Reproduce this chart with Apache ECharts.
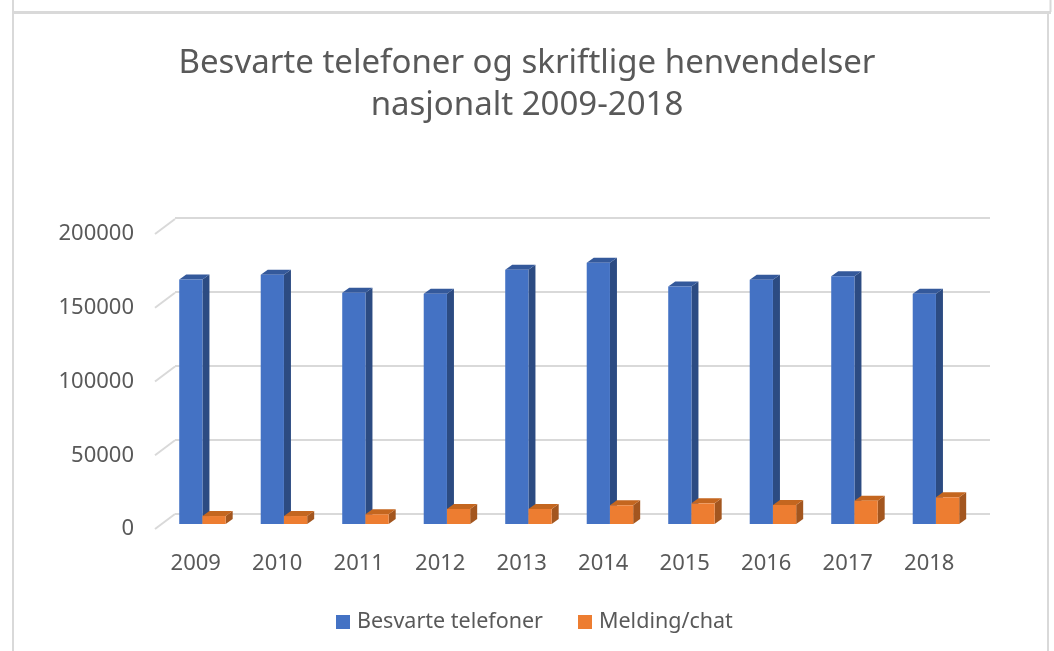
<!DOCTYPE html>
<html>
<head>
<meta charset="utf-8">
<script src="https://cdn.jsdelivr.net/npm/echarts@6/dist/echarts.min.js"></script>
<style>
  html, body { margin: 0; padding: 0; background: #fff; }
  #chart { width: 1054px; height: 651px; }
</style>
</head>
<body>
<div id="chart"></div>
<script>
// data
const years = ['2009', '2010', '2011', '2012', '2013', '2014', '2015', '2016', '2017', '2018'];
const telefoner = [165800, 168900, 156700, 156100, 172400, 177100, 161100, 165600, 167900, 156100];
const chat = [5400, 5400, 6600, 10200, 10200, 12700, 14000, 12900, 15800, 18100];
const yTicks = [0, 50000, 100000, 150000, 200000];

const TXT = '#595959';
const GRID_LINE = '#d9d9d9';
const FONT = 'Noto Sans';

// bar front face sits a bit behind the front plane, side/top depth
const DX = 6.7, DY = -5;
const SX = 7, SY = -5;

function bar3d(slot, front, side, top) {
  return function (params, api) {
    const i = api.value(0);
    const v = api.value(1);
    const base = api.coord([i, 0]);
    const tip = api.coord([i, v]);
    const bw = api.size([1, 0])[0] * 0.285;
    const x0 = base[0] + DX + (slot - 1) * bw;
    const x1 = x0 + bw;
    const y0 = base[1] + DY;
    const y1 = tip[1] + DY;
    return {
      type: 'group',
      children: [
        { type: 'polygon', shape: { points: [[x1, y0], [x1 + SX, y0 + SY], [x1 + SX, y1 + SY], [x1, y1]] }, style: { fill: side } },
        { type: 'polygon', shape: { points: [[x0, y1], [x0 + SX, y1 + SY], [x1 + SX, y1 + SY], [x1, y1]] }, style: { fill: top } },
        { type: 'rect', shape: { x: x0, y: y1, width: bw, height: y0 - y1 }, style: { fill: front } }
      ]
    };
  };
}

const chart = echarts.init(document.getElementById('chart'));

const option = {
  backgroundColor: '#fff',
  animation: false,
  title: {
    text: 'Besvarte telefoner og skriftlige henvendelser\nnasjonalt 2009-2018',
    left: 'center',
    top: 38,
    textStyle: { fontFamily: FONT, fontSize: 33, fontWeight: 'normal', color: TXT, lineHeight: 42 }
  },
  legend: {
    bottom: 13,
    left: 331,
    itemWidth: 14,
    itemHeight: 14,
    itemGap: 35,
    icon: 'rect',
    textStyle: { fontFamily: FONT, fontSize: 21.5, color: TXT, padding: [0, 0, 0, 2] },
    data: ['Besvarte telefoner', 'Melding/chat']
  },
  grid: [
    // front plane (labels)
    { left: 155, right: 84, top: 234, bottom: 122 },
    // back wall (gridlines)
    { left: 175, right: 64, top: 218, bottom: 137 }
  ],
  xAxis: [
    {
      gridIndex: 0, type: 'category', data: years,
      axisLine: { show: false }, axisTick: { show: false },
      axisLabel: { fontFamily: FONT, fontSize: 22, color: TXT, margin: 24 }
    },
    {
      gridIndex: 1, type: 'category', data: years,
      axisLine: { show: false }, axisTick: { show: false }, axisLabel: { show: false }
    }
  ],
  yAxis: [
    {
      gridIndex: 0, type: 'value', min: 0, max: 200000, interval: 50000,
      axisLine: { show: false }, axisTick: { show: false }, splitLine: { show: false },
      axisLabel: { fontFamily: FONT, fontSize: 22, color: TXT, margin: 21, formatter: v => String(v) }
    },
    {
      gridIndex: 1, type: 'value', min: 0, max: 200000, interval: 50000,
      axisLine: { show: false }, axisTick: { show: false }, axisLabel: { show: false },
      splitLine: { lineStyle: { color: GRID_LINE, width: 2 } }
    }
  ],
  graphic: [
    { type: 'line', shape: { x1: 12, y1: 12.5, x2: 1051, y2: 12.5 }, style: { stroke: GRID_LINE, lineWidth: 3 } },
    { type: 'line', shape: { x1: 13, y1: 0, x2: 13, y2: 651 }, style: { stroke: GRID_LINE, lineWidth: 2 } },
    { type: 'line', shape: { x1: 1050.5, y1: 0, x2: 1050.5, y2: 12 }, style: { stroke: GRID_LINE, lineWidth: 2 } },
    { type: 'line', shape: { x1: 1048, y1: 13, x2: 1048, y2: 651 }, style: { stroke: GRID_LINE, lineWidth: 2 } }
  ],
  series: [
    {
      // diagonal connectors from the front labels to the back wall
      type: 'custom',
      xAxisIndex: 0, yAxisIndex: 0,
      silent: true,
      data: yTicks.map(v => [0, v]),
      renderItem: function (params, api) {
        const x = params.coordSys.x;
        const y = api.coord([0, api.value(1)])[1];
        return {
          type: 'line',
          shape: { x1: x, y1: y, x2: x + 20, y2: y - 15 },
          style: { stroke: GRID_LINE, lineWidth: 2 }
        };
      }
    },
    {
      name: 'Besvarte telefoner',
      type: 'custom',
      xAxisIndex: 0, yAxisIndex: 0,
      itemStyle: { color: '#4472C4' },
      data: years.map((y, i) => [i, telefoner[i]]),
      renderItem: bar3d(0, '#4472C4', '#2c4b82', '#34599b')
    },
    {
      name: 'Melding/chat',
      type: 'custom',
      xAxisIndex: 0, yAxisIndex: 0,
      itemStyle: { color: '#ED7D31' },
      data: years.map((y, i) => [i, chat[i]]),
      renderItem: bar3d(1, '#ED7D31', '#a3561f', '#c4661f')
    }
  ]
};

chart.setOption(option);
</script>
</body>
</html>
